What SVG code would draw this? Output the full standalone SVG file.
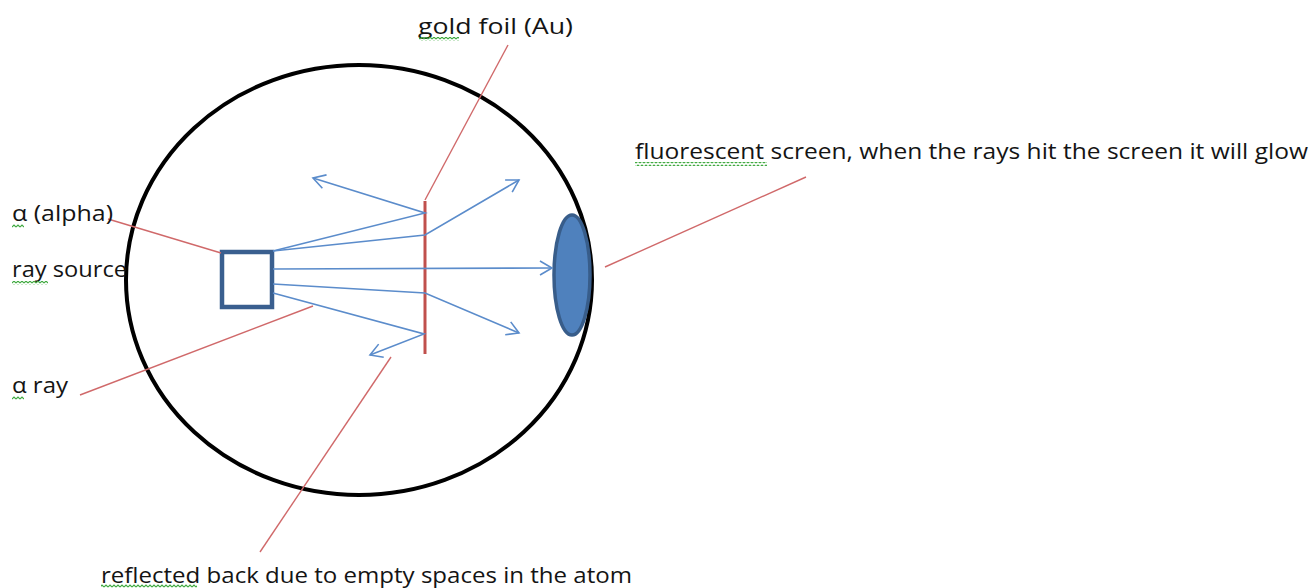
<svg xmlns="http://www.w3.org/2000/svg" width="1312" height="588" viewBox="0 0 1312 588">
<style>
.lbl{font-family:"Open Sans","Liberation Sans",sans-serif;font-size:21px;fill:#141414}
.lead{stroke:#D0696A;stroke-width:1.4;fill:none}
.ray{stroke:#5B8CCB;stroke-width:1.6;fill:none;marker-end:url(#open)}
</style>
<defs>
<marker id="open" markerUnits="userSpaceOnUse" markerWidth="16" markerHeight="16" refX="13" refY="8" orient="auto" viewBox="0 0 16 16">
<path d="M1,1 L13,8 L1,15" fill="none" stroke="#5B8CCB" stroke-width="1.6"/>
</marker>
<pattern id="sq" patternUnits="userSpaceOnUse" width="4" height="4">
<path d="M0,3 L2,1 L4,3" fill="none" stroke="#3DA83D" stroke-width="1.1"/>
</pattern>
</defs>
<rect width="1312" height="588" fill="#fff"/>
<g id="chamber"><ellipse cx="359" cy="280" rx="233" ry="215" fill="none" stroke="#000" stroke-width="4"/></g>
<g id="screen"><ellipse cx="572" cy="275" rx="18" ry="60" fill="#4F81BD" stroke="#385D8A" stroke-width="3.5"/></g>
<g id="source"><rect x="222" y="252" width="50" height="55" fill="#fff" stroke="#3A5F8F" stroke-width="4.5"/></g>
<g id="foil"><line x1="425" y1="201" x2="425" y2="354" stroke="#C0504D" stroke-width="3"/></g>
<g id="connectors">
<polyline class="ray" points="273,251 425,213 313,178"/>
<polyline class="ray" points="273,251 425,235 519,180"/>
<polyline class="ray" points="273,269 552,268"/>
<polyline class="ray" points="273,284 425,293 519,333"/>
<polyline class="ray" points="273,293 424,334 370,355"/>
<line class="lead" x1="425" y1="200" x2="508" y2="45"/>
<line class="lead" x1="108" y1="219" x2="221" y2="253"/>
<line class="lead" x1="80" y1="395" x2="313" y2="306"/>
<line class="lead" x1="391" y1="357" x2="260" y2="552"/>
<line class="lead" x1="605" y1="267" x2="806" y2="177"/>
</g>
<g id="labels">
<text class="lbl" x="418" y="34" textLength="155" lengthAdjust="spacingAndGlyphs">gold foil (Au)</text>
<text class="lbl" x="12" y="221" textLength="101" lengthAdjust="spacingAndGlyphs">α (alpha)</text>
<text class="lbl" x="12" y="277" textLength="115" lengthAdjust="spacingAndGlyphs">ray source</text>
<text class="lbl" x="12" y="393" textLength="56" lengthAdjust="spacingAndGlyphs">α ray</text>
<text class="lbl" x="635" y="159" textLength="673" lengthAdjust="spacingAndGlyphs">fluorescent screen, when the rays hit the screen it will glow</text>
<text class="lbl" x="101" y="583" textLength="531" lengthAdjust="spacingAndGlyphs">reflected back due to empty spaces in the atom</text>
</g>
<g id="spellcheck">
<rect x="419" y="37" width="40" height="4" fill="url(#sq)"/>
<rect x="12" y="224" width="12" height="4" fill="url(#sq)"/>
<rect x="12" y="281" width="36" height="4" fill="url(#sq)"/>
<rect x="12" y="396" width="12" height="4" fill="url(#sq)"/>
<rect x="635" y="162" width="132" height="4" fill="url(#sq)"/>
<rect x="101" y="584" width="96" height="4" fill="url(#sq)"/>
</g>
</svg>
